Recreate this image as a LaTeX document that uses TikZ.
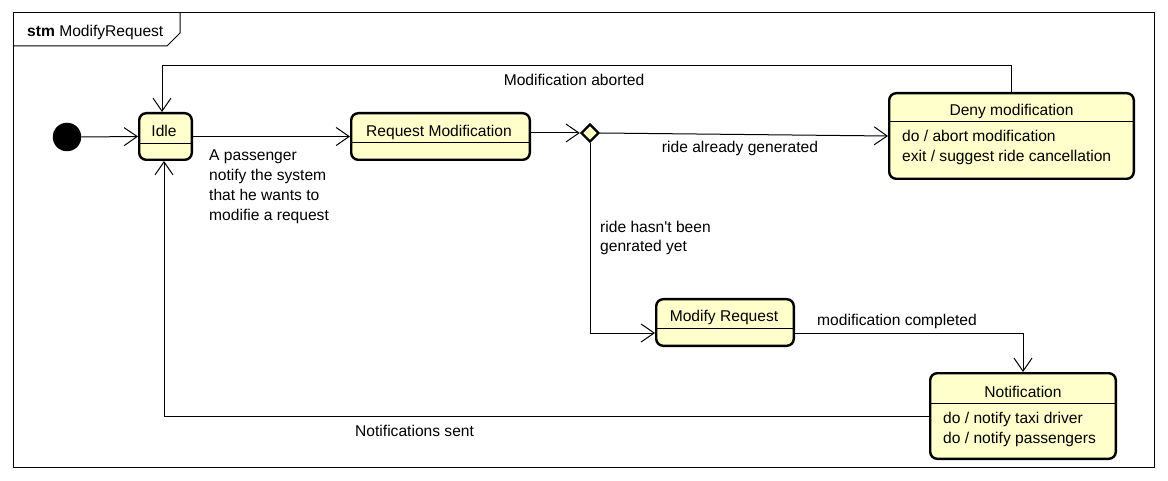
\documentclass[tikz,border=0pt]{standalone}
\usepackage{fontspec}
\setmainfont{Liberation Sans}[Ligatures=TeXOff]
\usetikzlibrary{arrows.meta,shapes.geometric}
\definecolor{stfill}{RGB}{255,255,204}
\begin{document}
\begin{tikzpicture}[x=1pt,y=-1pt,
  every node/.style={font=\fontsize{15.6}{20}\selectfont, inner sep=0pt},
  state/.style={draw, line width=2.4pt, rounded corners=7pt, fill=stfill, inner sep=0pt},
  divider/.style={line width=1pt},
  arr/.style={draw, line width=1pt, -{Straight Barb[length=13pt,width=18pt,line width=1pt]}},
  lbl/.style={anchor=base west, align=left},
  frame/.style={line width=1pt}]
\useasboundingbox (0,0) rectangle (1168,481);
% frame
\draw[frame] (13,13) rectangle (1154,467);
\draw[frame] (13,46) -- (167,46) -- (180,33) -- (180,13);
\node[anchor=base west] (tabt) at (27,36.5) {\textbf{stm} ModifyRequest};
% initial
\node[circle, fill=black, minimum size=28.5pt] (init) at (67,137) {};
% states
\node[state, minimum width=52.6pt, minimum height=46.6pt] (idle) at (165.5,136.5) {};
\draw[divider] (idle.west |- 0,144) -- (idle.east |- 0,144);
\node[anchor=base] (idlet) at (164,137) {Idle};

\node[state, minimum width=178.6pt, minimum height=46.6pt] (req) at (440.5,136.5) {};
\draw[divider] (req.west |- 0,143) -- (req.east |- 0,143);
\node[anchor=base] (reqt) at (439,137) {Request Modification};

\node[state, minimum width=244.6pt, minimum height=85.6pt] (deny) at (1011.5,136) {};
\draw[divider] (deny.west |- 0,122) -- (deny.east |- 0,122);
\node[anchor=base] (denyt) at (1011.5,116) {Deny modification};
\node[lbl] (denyb) at (902,162) {do / abort modification\\exit / suggest ride cancellation};

\node[state, minimum width=137.6pt, minimum height=46.6pt] (modreq) at (725,322.5) {};
\draw[divider] (modreq.west |- 0,328) -- (modreq.east |- 0,328);
\node[anchor=base] (modreqt) at (724,322) {Modify Request};

\node[state, minimum width=185.6pt, minimum height=85.6pt] (notif) at (1023,416) {};
\draw[divider] (notif.west |- 0,403) -- (notif.east |- 0,403);
\node[anchor=base] (notift) at (1023,397) {Notification};
\node[lbl] (notifb) at (943,443) {do / notify taxi driver\\do / notify passengers};

% decision
\node[diamond, draw, line width=2.4pt, fill=stfill, minimum width=18pt, minimum height=18pt] (dec) at (590,133) {};

% coordinates
\coordinate (c1) at (590,333);
\coordinate (c2) at (162,66);
\coordinate (c3) at (164,416);

% connectors
\draw[arr] (init.east) -- (idle.west);
\draw[arr] (idle.east) -- (req.west);
\draw[arr] (req.east |- dec.west) -- (dec.west);
\draw[arr] (dec.east) -- (deny.west);
\draw[arr] (dec.south) -- (c1) -- (c1 -| modreq.west);
\draw[arr] (modreq.east |- c1) -| (notif.north);
\draw[arr] (deny.north) |- (c2) -- (c2 |- idle.north);
\draw[arr] (notif.west) -- (c3) -- (c3 |- idle.south);

% labels
\node[anchor=base] (l1) at (574,85.5) {Modification aborted};
\node[lbl] (l2) at (209,221) {A passenger\\notify the system\\that he wants to\\modifie a request};
\node[anchor=base] (l3) at (740,153) {ride already generated};
\node[lbl] (l4) at (600,252) {ride hasn't been\\genrated yet};
\node[anchor=base west] (l5) at (817,325) {modification completed};
\node[anchor=base west] (l6) at (355,436) {Notifications sent};
\end{tikzpicture}
\end{document}
